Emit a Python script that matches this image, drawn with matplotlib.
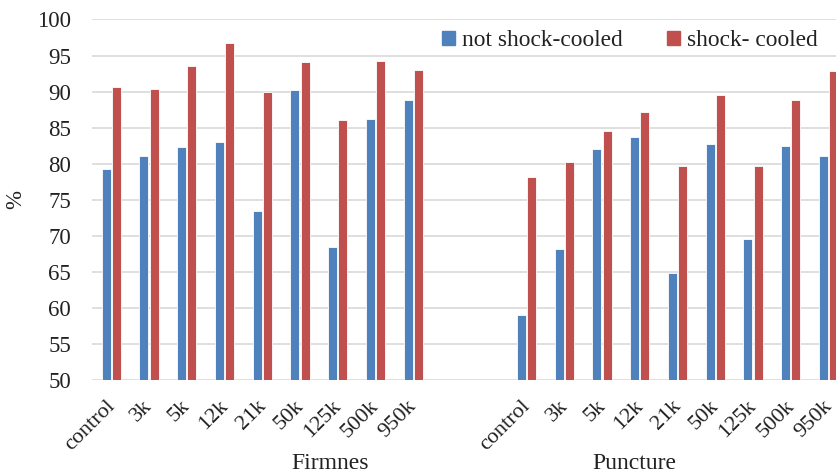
import numpy as np
import matplotlib.pyplot as plt
import matplotlib.transforms as mtrans
from matplotlib.patches import Patch

plt.rcParams['font.family'] = ['Liberation Serif', 'DejaVu Serif']

# data
categories = ['control', '3k', '5k', '12k', '21k', '50k', '125k', '500k', '950k']
groups = ['Firmnes', 'Puncture']
firm_not = [79.2, 81.0, 82.3, 83.0, 73.4, 90.2, 68.5, 86.2, 88.8]
firm_shock = [90.7, 90.4, 93.6, 96.7, 89.9, 94.1, 86.0, 94.2, 93.0]
punc_not = [59.0, 68.1, 82.1, 83.7, 64.8, 82.8, 69.5, 82.5, 81.0]
punc_shock = [78.1, 80.2, 84.5, 87.2, 79.7, 89.5, 79.7, 88.8, 92.8]
series_labels = ['not shock-cooled', 'shock- cooled']

blue = '#4f81bd'
red = '#c0504d'
txt = '#222222'

fig = plt.figure(figsize=(8.36, 4.73), dpi=100)
ax = fig.add_axes([0.110, 0.1966, 0.890, 0.7622])

n = len(categories)
x_f = np.arange(n)
x_p = np.arange(n) + n + 2
w = 0.24
off = 0.135

for xs, nv, sv in [(x_f, firm_not, firm_shock), (x_p, punc_not, punc_shock)]:
    ax.bar(xs - off, np.array(nv) - 50, w, bottom=50, color=blue,
           edgecolor='white', linewidth=0.6, zorder=3)
    ax.bar(xs + off, np.array(sv) - 50, w, bottom=50, color=red,
           edgecolor='white', linewidth=0.6, zorder=3)

ax.set_ylim(50, 100)
ax.set_yticks(np.arange(50, 101, 5))
ax.set_xlim(-0.51, 19.2)
ax.grid(axis='y', color='#d9d9d9', linewidth=1.2, zorder=0)
for s in ax.spines.values():
    s.set_visible(False)
ax.tick_params(length=0, labelsize=16.5, colors=txt)
ax.tick_params(axis='y', pad=15)

ax.set_xticks(np.concatenate([x_f, x_p]))
ax.set_xticklabels(categories + categories, rotation=45, ha='right',
                   va='top', rotation_mode='anchor', fontsize=16)
ax.tick_params(axis='x', pad=10)
shift = mtrans.ScaledTranslation(-6 / 100, -3 / 100, fig.dpi_scale_trans)
for lab in ax.get_xticklabels():
    lab.set_transform(lab.get_transform() + shift)

ax.set_ylabel('%', fontsize=16.5, labelpad=8, color=txt)

group_y = 50 - (464 - 380) / 7.216
ax.text(5.8, group_y, groups[0], fontsize=17, ha='center', va='center', color=txt)
ax.text(13.85, group_y, groups[1], fontsize=17, ha='center', va='center', color=txt)

handles = [Patch(color=blue), Patch(color=red)]
ax.legend(handles, series_labels, loc='upper right', bbox_to_anchor=(0.997, 1.015),
          ncol=2, frameon=False, fontsize=16.8, handlelength=0.55, handleheight=0.55,
          handletextpad=0.3, columnspacing=1.9, borderaxespad=0.3, labelcolor=txt)

fig.savefig('out.png', dpi=100)
